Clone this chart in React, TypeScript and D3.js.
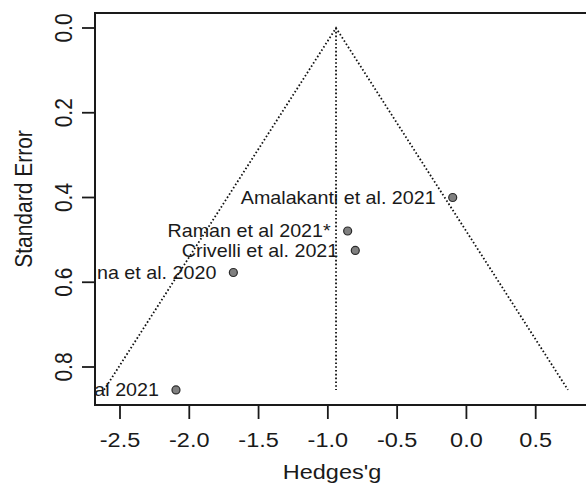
import React from "react";
import * as d3 from "d3";

const studyNames = [
  "Amalakanti et al. 2021",
  "Raman et al 2021*",
  "Crivelli et al. 2021",
  "Luna et al. 2020",
  "Sharma et al 2021",
];
const hedgesG = [-0.099, -0.857, -0.802, -1.682, -2.096];
const stdErr = [0.4, 0.479, 0.525, 0.577, 0.854];
const pooledEstimate = -0.941;
const xTicks = [-2.5, -2.0, -1.5, -1.0, -0.5, 0.0, 0.5];
const yTicks = [0.0, 0.2, 0.4, 0.6, 0.8];

const W = 586;
const H = 487;
const box = { left: 95, top: 13, right: 592, bottom: 405 };
const SX = 1.12;
const FONT = "'Liberation Sans', Arial, Helvetica, sans-serif";

export default function App() {
  const x = d3.scaleLinear().domain([-2.5, 0.5]).range([120.0, 535.7]);
  const y = d3.scaleLinear().domain([0, 0.8]).range([28.0, 367.0]);
  const seMax = d3.max(stdErr) as number;
  const line = d3
    .line<[number, number]>()
    .x((d) => x(d[0]))
    .y((d) => y(d[1]));
  const funnel: [number, number][] = [
    [pooledEstimate - 1.96 * seMax, seMax],
    [pooledEstimate, 0],
    [pooledEstimate + 1.96 * seMax, seMax],
  ];
  const refLine: [number, number][] = [
    [pooledEstimate, 0],
    [pooledEstimate, seMax],
  ];
  const dot = { stroke: "#111", strokeWidth: 1.8, strokeDasharray: "1.6 2.2", fill: "none" };

  return (
    <svg
      width={W}
      height={H}
      style={{ position: "absolute", left: 0, top: 0, background: "#fff" }}
      fontFamily={FONT}
    >
      <defs>
        <clipPath id="plotClip">
          <rect x={box.left} y={box.top} width={box.right - box.left} height={box.bottom - box.top} />
        </clipPath>
      </defs>
      <rect x={0} y={0} width={W} height={H} fill="#fff" />
      <g clipPath="url(#plotClip)">
        <path d={line(funnel) ?? ""} {...dot} />
        <path d={line(refLine) ?? ""} {...dot} />
        {studyNames.map((name, i) => (
          <g key={name}>
            <circle cx={x(hedgesG[i])} cy={y(stdErr[i])} r={4} fill="#808080" stroke="#2a2a2a" strokeWidth={1.2} />
            <text
              transform={`translate(${x(hedgesG[i]) - 17},${y(stdErr[i])}) scale(${SX},1)`}
              textAnchor="end"
              dy="0.36em"
              fontSize={17.6}
              fill="#1a1a1a"
            >
              {name}
            </text>
          </g>
        ))}
      </g>
      <rect
        x={box.left}
        y={box.top}
        width={box.right - box.left}
        height={box.bottom - box.top}
        fill="none"
        stroke="#1a1a1a"
        strokeWidth={2}
      />
      {xTicks.map((t) => (
        <g key={"x" + t}>
          <line x1={x(t)} x2={x(t)} y1={box.bottom} y2={box.bottom + 14} stroke="#1a1a1a" strokeWidth={1.8} />
          <text
            transform={`translate(${x(t)},447) scale(${SX},1)`}
            textAnchor="middle"
            fontSize={21}
            fill="#1a1a1a"
          >
            {t.toFixed(1)}
          </text>
        </g>
      ))}
      {yTicks.map((t) => (
        <g key={"y" + t}>
          <line x1={box.left - 13} x2={box.left} y1={y(t)} y2={y(t)} stroke="#1a1a1a" strokeWidth={1.8} />
          <text
            transform={`translate(72,${y(t)}) scale(${SX},1) rotate(-90)`}
            textAnchor="middle"
            fontSize={21}
            fill="#1a1a1a"
          >
            {t.toFixed(1)}
          </text>
        </g>
      ))}
      <text transform={`translate(332,479) scale(${SX},1)`} textAnchor="middle" fontSize={21} fill="#1a1a1a">
        Hedges'g
      </text>
      <text
        transform={`translate(32,199) scale(${SX},1) rotate(-90)`}
        textAnchor="middle"
        fontSize={21}
        fill="#1a1a1a"
      >
        Standard Error
      </text>
    </svg>
  );
}
